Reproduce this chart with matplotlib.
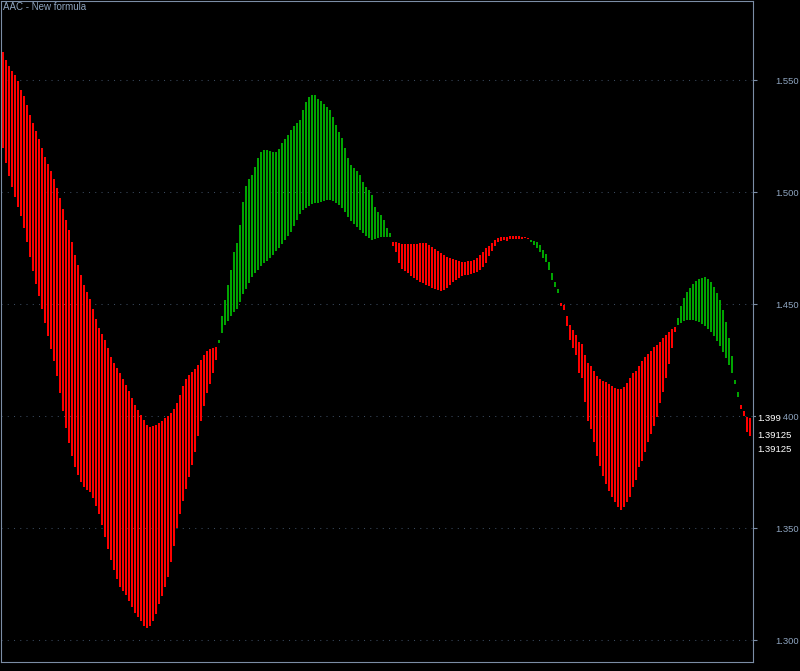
import numpy as np
import matplotlib
matplotlib.use("Agg")
import matplotlib.pyplot as plt

# AAC indicator, one value per bar: fast line and slow line
fast_line = [
    # falling leg (red)
    1.5197, 1.5130, 1.5072, 1.5023, 1.4978, 1.4933, 1.4893, 1.4839, 1.4776, 1.4710,
    1.4647, 1.4589, 1.4535, 1.4478, 1.4415, 1.4357, 1.4299, 1.4246, 1.4179, 1.4103,
    1.4022, 1.3946, 1.3879, 1.3821, 1.3772, 1.3736, 1.3705, 1.3683, 1.3669, 1.3660,
    1.3633, 1.3598, 1.3562, 1.3513, 1.3460, 1.3406, 1.3357, 1.3313, 1.3273, 1.3237,
    1.3219, 1.3201, 1.3175, 1.3148, 1.3121, 1.3103, 1.3085, 1.3063, 1.3054, 1.3063,
    1.3085, 1.3116, 1.3161, 1.3196, 1.3237, 1.3282, 1.3348, 1.3420, 1.3500, 1.3562,
    1.3621, 1.3674, 1.3727, 1.3781, 1.3839, 1.3910, 1.3977, 1.4044, 1.4103, 1.4143,
    1.4193, 1.4250,
    # rally (green)
    1.4339, 1.4447, 1.4518, 1.4585, 1.4652, 1.4732, 1.4772, 1.4852, 1.4955, 1.5027,
    1.5059, 1.5076, 1.5112, 1.5152, 1.5179, 1.5188, 1.5188, 1.5184, 1.5179, 1.5179,
    1.5192, 1.5219, 1.5237, 1.5255, 1.5277, 1.5295, 1.5308, 1.5322, 1.5366, 1.5402,
    1.5424, 1.5433, 1.5433, 1.5415, 1.5406, 1.5393, 1.5380, 1.5366, 1.5335, 1.5299,
    1.5268, 1.5241, 1.5197, 1.5152, 1.5121, 1.5107, 1.5094, 1.5076, 1.5045, 1.5023,
    1.5009, 1.4987, 1.4933, 1.4910, 1.4897, 1.4875, 1.4839, 1.4817,
    # dip (red)
    1.4758, 1.4732, 1.4683, 1.4656, 1.4647, 1.4638, 1.4625, 1.4616, 1.4607, 1.4598,
    1.4594, 1.4585, 1.4580, 1.4571, 1.4567, 1.4562, 1.4558, 1.4562, 1.4571, 1.4585,
    1.4598, 1.4607, 1.4616, 1.4625, 1.4629, 1.4629, 1.4634, 1.4638, 1.4643, 1.4652,
    1.4665, 1.4683, 1.4714, 1.4736, 1.4758, 1.4776, 1.4781, 1.4785, 1.4781, 1.4790,
    1.4790, 1.4790, 1.4790, 1.4790, 1.4794, 1.4790,
    # flat (green)
    1.4785, 1.4781, 1.4776, 1.4763, 1.4741, 1.4723, 1.4687, 1.4638, 1.4598, 1.4567,
    # second fall (red)
    1.4491, 1.4473, 1.4402, 1.4339, 1.4303, 1.4273, 1.4192, 1.4170, 1.4062, 1.3977,
    1.3942, 1.3884, 1.3821, 1.3776, 1.3732, 1.3696, 1.3665, 1.3638, 1.3616, 1.3594,
    1.3580, 1.3594, 1.3616, 1.3638, 1.3683, 1.3714, 1.3772, 1.3799, 1.3839, 1.3884,
    1.3919, 1.3955, 1.3995, 1.4058, 1.4107, 1.4170, 1.4232, 1.4303, 1.4375,
    # bounce (green)
    1.4438, 1.4491, 1.4527, 1.4553, 1.4571, 1.4589, 1.4603, 1.4611, 1.4616, 1.4620,
    1.4611, 1.4598, 1.4576, 1.4549, 1.4518, 1.4473, 1.4420, 1.4348, 1.4268, 1.4161,
    1.4107,
    # last bars (red)
    1.4031, 1.4000, 1.3928, 1.39125,
]

slow_line = [
    1.5625, 1.5589, 1.5562, 1.5540, 1.5522, 1.5495, 1.5455, 1.5428, 1.5389, 1.5344,
    1.5308, 1.5273, 1.5237, 1.5197, 1.5157, 1.5125, 1.5094, 1.5059, 1.5018, 1.4973,
    1.4924, 1.4875, 1.4830, 1.4776, 1.4719, 1.4674, 1.4629, 1.4585, 1.4553, 1.4522,
    1.4478, 1.4433, 1.4393, 1.4366, 1.4339, 1.4303, 1.4263, 1.4237, 1.4214, 1.4193,
    1.4166, 1.4139, 1.4112, 1.4081, 1.4049, 1.4026, 1.4004, 1.3982, 1.3959, 1.3950,
    1.3955, 1.3959, 1.3968, 1.3977, 1.3991, 1.4000, 1.4013, 1.4031, 1.4058, 1.4094,
    1.4134, 1.4166, 1.4183, 1.4197, 1.4210, 1.4228, 1.4250, 1.4273, 1.4290, 1.4299,
    1.4303, 1.4308,
    1.4326, 1.4371, 1.4406, 1.4424, 1.4447, 1.4464, 1.4478, 1.4509, 1.4544, 1.4567,
    1.4594, 1.4620, 1.4638, 1.4652, 1.4669, 1.4683, 1.4692, 1.4705, 1.4719, 1.4736,
    1.4750, 1.4767, 1.4785, 1.4803, 1.4821, 1.4848, 1.4875, 1.4901, 1.4919, 1.4928,
    1.4937, 1.4946, 1.4951, 1.4951, 1.4955, 1.4960, 1.4964, 1.4964, 1.4960, 1.4951,
    1.4942, 1.4928, 1.4910, 1.4888, 1.4870, 1.4857, 1.4843, 1.4830, 1.4817, 1.4803,
    1.4794, 1.4785, 1.4790, 1.4794, 1.4799, 1.4799, 1.4799, 1.4799,
    1.4776, 1.4776, 1.4772, 1.4767, 1.4767, 1.4767, 1.4767, 1.4767, 1.4767, 1.4772,
    1.4772, 1.4772, 1.4763, 1.4754, 1.4745, 1.4736, 1.4727, 1.4719, 1.4710, 1.4705,
    1.4701, 1.4696, 1.4692, 1.4687, 1.4687, 1.4692, 1.4692, 1.4696, 1.4705, 1.4719,
    1.4732, 1.4750, 1.4758, 1.4772, 1.4785, 1.4794, 1.4799, 1.4799, 1.4799, 1.4803,
    1.4803, 1.4803, 1.4803, 1.4799, 1.4799, 1.4794,
    1.4776, 1.4763, 1.4750, 1.4732, 1.4705, 1.4687, 1.4652, 1.4607, 1.4576, 1.4549,
    1.4505, 1.4496, 1.4447, 1.4406, 1.4384, 1.4362, 1.4330, 1.4321, 1.4273, 1.4237,
    1.4223, 1.4201, 1.4179, 1.4165, 1.4156, 1.4152, 1.4143, 1.4134, 1.4125, 1.4121,
    1.4121, 1.4130, 1.4147, 1.4170, 1.4192, 1.4201, 1.4223, 1.4246, 1.4263, 1.4277,
    1.4290, 1.4308, 1.4317, 1.4330, 1.4348, 1.4362, 1.4375, 1.4388, 1.4397,
    1.4406, 1.4415, 1.4424, 1.4429, 1.4429, 1.4429, 1.4424, 1.4420, 1.4411, 1.4402,
    1.4388, 1.4375, 1.4357, 1.4335, 1.4313, 1.4286, 1.4259, 1.4228, 1.4192, 1.4143,
    1.4085,
    1.4049, 1.4022, 1.3995, 1.3990,
]

price_ticks = [1.300, 1.350, 1.400, 1.450, 1.500, 1.550]
last_value_labels = ["1.399", "1.39125", "1.39125"]
chart_title = "AAC - New formula"

FRAME = "#7b8da5"
TEXT = "#8ea4bf"
GRID = "#3b4a5e"
UP = "#00a400"
DOWN = "#ff0000"

fast = np.array(fast_line)
slow = np.array(slow_line)
assert len(fast) == len(slow)
bars = np.arange(len(fast))
lo = np.minimum(fast, slow)
hi = np.maximum(fast, slow)
colors = np.where(fast > slow, UP, DOWN)

plt.rcParams['font.family'] = ['Liberation Sans', 'DejaVu Sans']

fig = plt.figure(figsize=(8, 6.71), dpi=100, facecolor="black")
ax = fig.add_axes([1 / 800, 9 / 671, 752 / 800, 661 / 671], facecolor="black")

ax.bar(bars, hi - lo, bottom=lo, width=0.82, color=colors, linewidth=0, zorder=2)

ax.set_xlim(-0.667, 250.0)
ax.set_ylim(1.29018, 1.58527)

ax.set_yticks(price_ticks)
ax.set_yticklabels([f"{t:.3f}" for t in price_ticks])
ax.yaxis.tick_right()
ax.tick_params(axis="y", colors=FRAME, labelcolor=TEXT, length=3, width=0.8,
               pad=13, labelsize=6.8)
ax.set_xticks([])
ax.grid(axis="y", color=GRID, linestyle=(0, (1, 5)), linewidth=0.75, zorder=0)
ax.set_axisbelow(True)

for s in ax.spines.values():
    s.set_color(FRAME)
    s.set_linewidth(0.8)

# current-value labels on the price scale (they sit over the 1.400 label, as in the terminal)
label_pos = [(slow[-1], 0), (fast[-1], 0), (fast[-1], -10)]
for txt, (val, dy) in zip(last_value_labels, label_pos):
    ax.annotate(txt, xy=(1, val), xycoords=("axes fraction", "data"),
                xytext=(3, dy), textcoords="offset points", ha="left", va="center",
                color="white", fontsize=6.8, annotation_clip=False, zorder=5,
                bbox=dict(boxstyle="square,pad=0.1", fc="black", ec="none"))

fig.text(3 / 800, 1 - 2 / 671, chart_title, ha="left", va="top", color=TEXT, fontsize=7)

fig.savefig("out.png", dpi=100, facecolor="black")
